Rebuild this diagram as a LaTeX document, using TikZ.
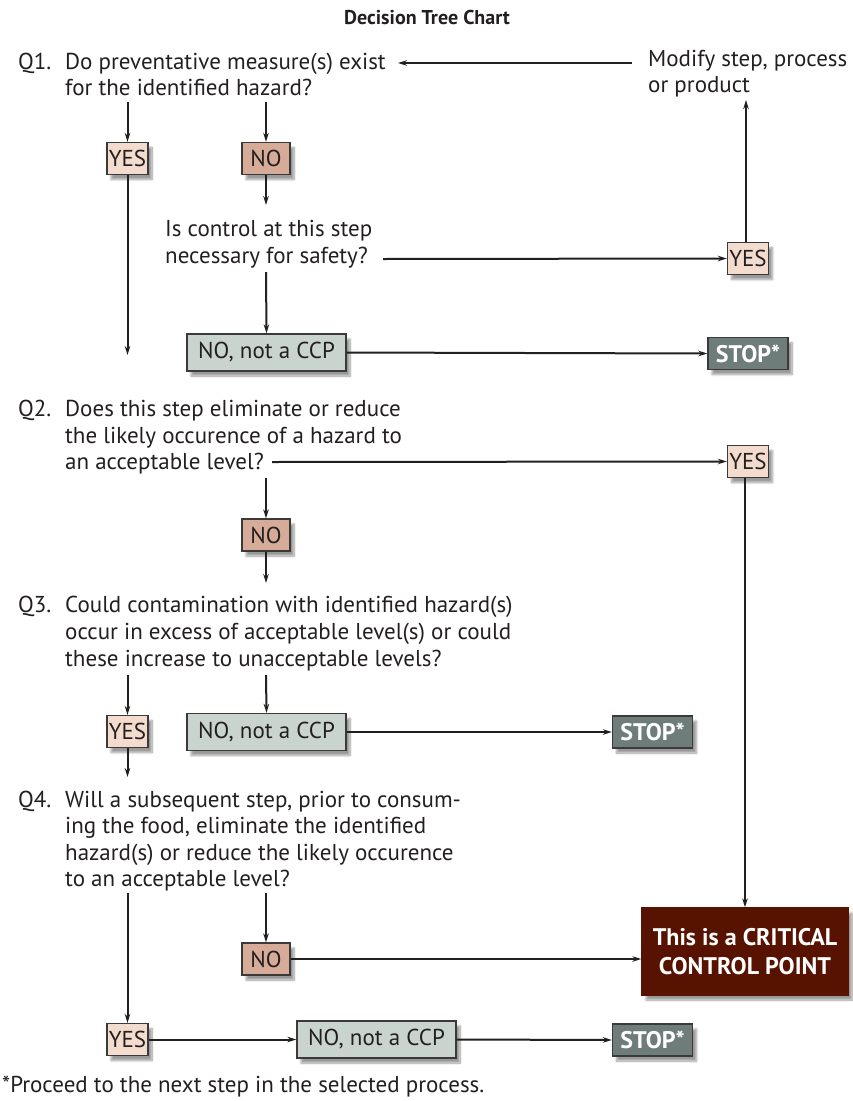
\documentclass[tikz,border=0pt]{standalone}
\usepackage{fontspec}
\setmainfont{PT Sans}
\usetikzlibrary{arrows.meta,shadows.blur}

\definecolor{yesfill}{HTML}{F3DCCD}
\definecolor{nofill}{HTML}{D6AB98}
\definecolor{notfill}{HTML}{C9D4CF}
\definecolor{stopfill}{HTML}{6E7C7A}
\definecolor{ccpfill}{HTML}{571300}
\definecolor{edge}{HTML}{3A3A3A}
\definecolor{ink}{HTML}{231F20}

\begin{document}
\begin{tikzpicture}[x=1pt,y=-1pt,
  every node/.style={font=\fontsize{23}{26}\selectfont, text=ink},
  box/.style={draw=edge, line width=1.3pt, inner sep=0pt, minimum height=32pt,
    blur shadow={shadow xshift=4pt, shadow yshift=-5pt, shadow blur steps=10, shadow opacity=40}},
  yesbox/.style={box, fill=yesfill, minimum width=41pt},
  nobox/.style={box, fill=nofill, minimum width=48pt},
  notbox/.style={box, fill=notfill, minimum width=159pt, minimum height=37pt},
  stopbox/.style={box, fill=stopfill, minimum width=80pt, text=white,
    font=\fontsize{24}{26}\selectfont\bfseries},
  ccpbox/.style={box, fill=ccpfill, draw=ccpfill, minimum width=206pt, minimum height=87pt,
    text=white, align=center, font=\fontsize{24}{29}\selectfont\bfseries},
  txt/.style={anchor=base west, inner sep=0pt},
  wire/.style={line width=2pt, draw=ink},
  arr/.style={wire, -{Stealth[length=9pt,width=5.5pt]}}
]
\useasboundingbox (0,0) rectangle (852,1101);

% title
\node[anchor=base, inner sep=0pt, font=\fontsize{20}{22}\selectfont\bfseries] (title) at (427,24) {Decision Tree Chart};

% Q1
\node[txt] (q1n) at (18,69) {Q1.};
\node[txt] (q1a) at (65,69) {Do preventative measure(s) exist};
\node[txt] (q1b) at (65,95) {for the identified hazard?};
\node[txt] (mod1) at (648,66) {Modify step, process};
\node[txt] (mod2) at (648,92) {or product};

\node[yesbox] (yes1) at (127.5,158.5) {YES};
\node[nobox]  (no1)  at (266,158.5) {NO};

% control question
\node[txt] (c1) at (165,236) {Is control at this step};
\node[txt] (c2) at (165,263) {necessary for safety?};
\node[yesbox] (yes1b) at (748,258.5) {YES};
\node[notbox] (not1) at (266.5,352.5) {NO, not a CCP};
\node[stopbox] (stop1) at (748,353.5) {STOP*};

% Q2
\node[txt] (q2n) at (18,416) {Q2.};
\node[txt] (q2a) at (65,416) {Does this step eliminate or reduce};
\node[txt] (q2b) at (65,443) {the likely occurence of a hazard to};
\node[txt] (q2c) at (65,469) {an acceptable level?};
\node[yesbox] (yes2) at (748,461.5) {YES};
\node[nobox]  (no2)  at (266,535) {NO};

% Q3
\node[txt] (q3n) at (18,612) {Q3.};
\node[txt] (q3a) at (65,612) {Could contamination with identified hazard(s)};
\node[txt] (q3b) at (65,639) {occur in excess of acceptable level(s) or could};
\node[txt] (q3c) at (65,666) {these increase to unacceptable levels?};
\node[yesbox] (yes3) at (127.5,731.5) {YES};
\node[notbox] (not3) at (266.5,732) {NO, not a CCP};
\node[stopbox] (stop3) at (652.5,732) {STOP*};

% Q4
\node[txt] (q4n) at (18,807) {Q4.};
\node[txt] (q4a) at (65,807) {Will a subsequent step, prior to consum-};
\node[txt] (q4b) at (65,833) {ing the food, eliminate the identified};
\node[txt] (q4c) at (65,860) {hazard(s) or reduce the likely occurence};
\node[txt] (q4d) at (65,886) {to an acceptable level?};
\node[nobox] (no4) at (266,959) {NO};
\node[ccpbox] (ccp) at (745,951.5) {This is a CRITICAL\\CONTROL POINT};
\node[yesbox] (yes4) at (127.5,1039.5) {YES};
\node[notbox] (not4) at (376.5,1039.5) {NO, not a CCP};
\node[stopbox] (stop4) at (652.5,1040) {STOP*};

% footnote
\node[txt] (foot) at (2,1092) {*Proceed to the next step in the selected process.};

% free ends of connectors
\coordinate (q1l) at (127.5,102);
\coordinate (q1r) at (266,102);
\coordinate (modin) at (632,63);
\coordinate (modout) at (398,63);
\coordinate (modup) at (746,100);
\coordinate (cin) at (266,205);
\coordinate (cout) at (383,259);
\coordinate (cdown) at (266,272);
\coordinate (q2in) at (127.5,355);
\coordinate (q2out) at (272,462);
\coordinate (q2down) at (266,478);
\coordinate (q3in) at (266,583);
\coordinate (q3l) at (127.5,675);
\coordinate (q3r) at (266,675);
\coordinate (q4in) at (127.5,777);
\coordinate (q4l) at (127.5,893);
\coordinate (q4r) at (266,893);

% Q1 branch
\draw[arr] (modin) -- (modout);
\draw[arr] (q1l) -- (yes1.north);
\draw[arr] (q1r) -- (no1.north);
\draw[arr] (no1.south) -- (cin);
\draw[arr] (cout) -- (yes1b.west);
\draw[arr] (yes1b.north -| modup) -- (modup);
\draw[arr] (cdown) -- (not1.north);
\draw[arr] (not1.east) -- (stop1.west);
\draw[arr] (yes1.south) -- (q2in);

% Q2 branch
\draw[arr] (q2out) -- (yes2.west);
\draw[arr] (yes2.south -| ccp.north) -- (ccp.north);
\draw[arr] (q2down) -- (no2.north);
\draw[arr] (no2.south) -- (q3in);

% Q3 branch
\draw[arr] (q3l) -- (yes3.north);
\draw[arr] (q3r) -- (not3.north);
\draw[arr] (not3.east) -- (stop3.west);
\draw[arr] (yes3.south) -- (q4in);

% Q4 branch
\draw[arr] (q4r) -- (no4.north);
\draw[arr] (no4.east) -- (ccp.west |- no4.east);
\draw[arr] (q4l) -- (yes4.north);
\draw[arr] (yes4.east) -- (not4.west);
\draw[arr] (not4.east) -- (stop4.west);
\end{tikzpicture}
\end{document}
